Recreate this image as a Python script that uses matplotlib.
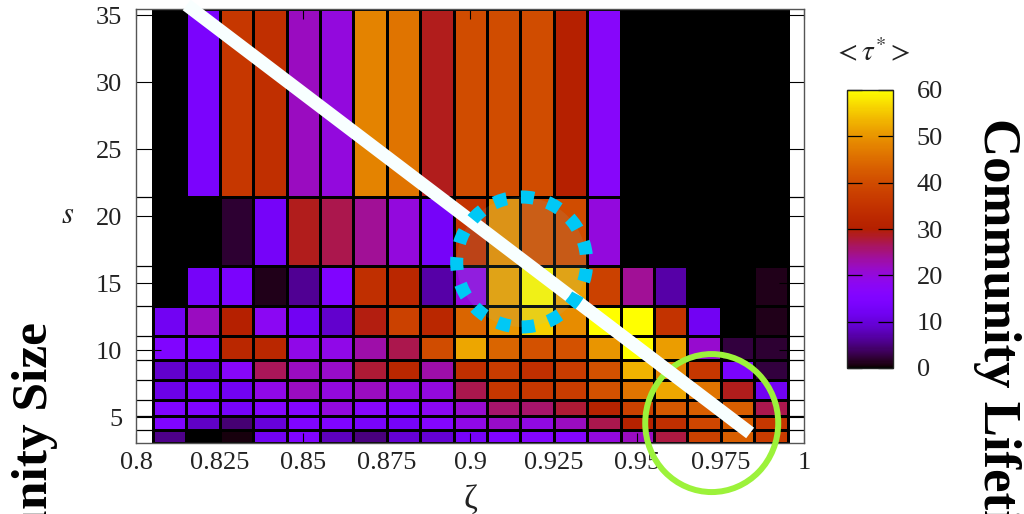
import numpy as np
import matplotlib
matplotlib.use("Agg")
import matplotlib.pyplot as plt
from matplotlib.patches import Circle, Ellipse
from matplotlib.transforms import ScaledTranslation

plt.rcParams["font.family"] = ["Liberation Serif", "DejaVu Serif"]
plt.rcParams["mathtext.fontset"] = "stix"

# zeta bin centres (columns) and community-size bin edges (rows)
zeta_centers = [0.81, 0.82, 0.83, 0.84, 0.85, 0.86, 0.87, 0.88, 0.89, 0.90,
                0.91, 0.92, 0.93, 0.94, 0.95, 0.96, 0.97, 0.98, 0.99]
size_edges = [3.04, 4.03, 5.07, 6.27, 7.76, 9.25, 11.04, 13.28, 16.27, 21.42, 35.43]

# mean community lifetime <tau*>, rows from smallest to largest size bin
tau_row0 = [5.5, 0, 0.5, 12, 15, 8, 5, 9.5, 9.5, 13, 15, 16, 16, 20, 22, 27.5, 38, 43, 37]
tau_row1 = [15, 8.5, 4.5, 10, 15, 15, 13.5, 13, 16, 19, 21.5, 19.5, 22, 27, 30.5, 34, 39, 43, 36]
tau_row2 = [15, 15, 13, 16, 16, 20, 17, 15, 18, 21, 26, 26, 28, 31, 38, 42, 43, 43, 27]
tau_row3 = [11, 13, 12, 19, 22, 20, 22, 20, 20, 27, 36, 36, 37, 41, 46, 52, 46, 29, 12]
tau_row4 = [9, 10, 17, 26.5, 22, 21.5, 28, 32, 23, 34, 37, 34, 37, 41, 53, 48, 36, 14, 2.5]
tau_row5 = [15, 14.5, 32, 32, 19, 19, 23, 27, 40, 52, 44, 41, 41, 50, 60, 51, 21, 2.5, 2]
tau_row6 = [12, 22, 30, 18, 12, 9, 29.5, 38, 32, 44, 50, 56, 49, 60, 60, 35, 12, 0, 1]
tau_row7 = [0, 13, 14, 1, 6, 15, 34, 32, 7, 20, 51, 59, 51, 38, 24, 7, 0, 0, 1]
tau_row8 = [0, 0, 2, 13, 29, 27, 24, 20, 13, 35, 49, 41, 40, 20, 0, 0, 0, 0, 0]
tau_row9 = [0, 14, 36, 34, 22, 20, 48, 46, 29, 40, 40, 40, 30, 17, 0, 0, 0, 0, 0]

x_ticks = [0.8, 0.825, 0.85, 0.875, 0.9, 0.925, 0.95, 0.975, 1.0]
x_tick_labels = ["0.8", "0.825", "0.85", "0.875", "0.9", "0.925", "0.95", "0.975", "1"]
y_ticks = [5, 10, 15, 20, 25, 30, 35]
cb_ticks = [0, 10, 20, 30, 40, 50, 60]

tau = np.array([tau_row0, tau_row1, tau_row2, tau_row3, tau_row4,
                tau_row5, tau_row6, tau_row7, tau_row8, tau_row9])
zc = np.array(zeta_centers)
zeta_edges = np.r_[zc - 0.005, zc[-1] + 0.005]

W, H = 1024, 514
fig = plt.figure(figsize=(W / 100, H / 100), dpi=100)


def fx(x):
    return x / W


def fy(y):
    return 1 - y / H


ax = fig.add_axes([fx(136.25), fy(443.3), 668 / W, 434 / H])
mesh = ax.pcolormesh(zeta_edges, size_edges, tau, cmap="gnuplot", vmin=0, vmax=60,
                     edgecolors="black", linewidth=0.9)
ax.hlines(size_edges[1:-1], 0.8, 1.0, colors="black", lw=0.9, zorder=2)
ax.set_xlim(0.8, 1.0)
ax.set_ylim(size_edges[0], size_edges[-1])

ax.set_xticks(x_ticks)
ax.set_xticklabels(x_tick_labels)
ax.set_yticks(y_ticks)
ax.tick_params(axis="both", direction="in", top=True, right=True, width=0.8,
               labelsize=19, colors="black", labelcolor="#222222")
ax.tick_params(axis="x", length=7.2, pad=6.5)
ax.tick_params(axis="y", length=18, pad=10)
for sp in ax.spines.values():
    sp.set_color("#555555")
    sp.set_linewidth(1.0)
    sp.set_zorder(3)

ax.set_xlabel("ζ", fontsize=24, color="#222222")
ax.xaxis.set_label_coords(0.5, -0.095)
ax.set_ylabel(r"$s$", fontsize=22, rotation=0, va="center", color="#222222")
ax.yaxis.set_label_coords(-0.103, 0.524)

# colour bar
cax = fig.add_axes([fx(847), fy(368), 46 / W, 278 / H])
cb = fig.colorbar(mesh, cax=cax, ticks=cb_ticks)
cb.outline.set_edgecolor("#222222")
cb.outline.set_linewidth(1.0)
cax.yaxis.set_ticks_position("both")
cax.tick_params(direction="in", length=11, width=0.9, labelsize=19,
                labelcolor="#222222", left=True, right=True,
                labelleft=False, labelright=True, pad=17)
fig.text(fx(872), fy(53), r"$<\tau^{*}>$", fontsize=21, ha="center", va="center",
         color="#222222")

# diagonal guide line
ax.plot([0.8151, 0.9838], [35.75, 3.81], color="#F8FFFF", lw=9.5,
        solid_capstyle="butt", clip_on=False, zorder=5)

# dotted highlight circle
cyan_tr = fig.dpi_scale_trans + ScaledTranslation(0.9154, 16.57, ax.transData)
ax.add_patch(Circle((0, 0), 0.65, transform=cyan_tr, facecolor="#80D8E8",
                    alpha=0.1, edgecolor="none", zorder=4, clip_on=False))
ax.add_patch(Circle((0, 0), 0.65, transform=cyan_tr, fill=False,
                    edgecolor="#00C8F5", lw=9.4, linestyle=(0, (1, 1.1)),
                    zorder=6, clip_on=False))

# green highlight ring
green_tr = fig.dpi_scale_trans + ScaledTranslation(0.9723, 4.55, ax.transData)
ax.add_patch(Ellipse((0, 0), 1.33, 1.38, transform=green_tr, fill=False,
                     edgecolor="#9CF23A", lw=4.3, zorder=4.5, clip_on=False))

# side captions
fig.text(fx(35), fy(322), "Community Size", rotation=90, ha="center", va="top",
         fontsize=37, fontweight="bold")
fig.text(fx(997), fy(118), "Community Lifetime", rotation=270, ha="center",
         va="top", fontsize=38, fontweight="bold")

fig.savefig("out.png", dpi=100)
